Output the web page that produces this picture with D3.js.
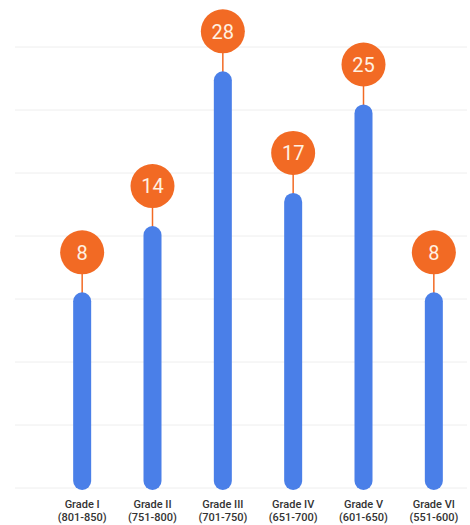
<!DOCTYPE html>
<html>
<head>
<meta charset="utf-8">
<script src="https://cdn.jsdelivr.net/npm/d3@7"></script>
<style>
  html, body { margin: 0; padding: 0; background: #ffffff; }
  svg { display: block; }
</style>
</head>
<body>
<svg id="chart" width="470" height="525"></svg>
<script>
// Grade bands and the count for each
const grades = ["Grade I", "Grade II", "Grade III", "Grade IV", "Grade V", "Grade VI"];
const ranges = ["(801-850)", "(751-800)", "(701-750)", "(651-700)", "(601-650)", "(551-600)"];
const counts = [8, 14, 28, 17, 25, 8];

const W = 470, H = 525;
const plotTop = 47, plotBottom = 488, barBase = 490;
const gridCount = 8;

const svg = d3.select("#chart");

const x = d3.scaleBand()
  .domain(grades)
  .range([47, 469])
  .padding(0);

const y = d3.scaleLinear()
  .domain([-9.7, 30.2])
  .range([plotBottom, plotTop]);

const cx = d => x(d.grade) + x.bandwidth() / 2;

// faint horizontal guide lines
const gridY = d3.scaleLinear().domain([0, gridCount - 1]).range([plotBottom, plotTop]);
svg.append("g")
  .selectAll("line")
  .data(d3.range(gridCount))
  .join("line")
  .attr("x1", 15)
  .attr("x2", 467)
  .attr("y1", d => gridY(d))
  .attr("y2", d => gridY(d))
  .attr("stroke", "#eeeeee")
  .attr("stroke-width", 1);

const data = grades.map((g, i) => ({ grade: g, range: ranges[i], value: counts[i] }));
const barW = 18;
const bubbleR = 22;
const bubbleGap = 40;

const g = svg.append("g");

// stems connecting bubble and bar
g.selectAll("line.stem")
  .data(data)
  .join("line")
  .attr("class", "stem")
  .attr("x1", cx)
  .attr("x2", cx)
  .attr("y1", d => y(d.value) - bubbleGap)
  .attr("y2", d => y(d.value) + 4)
  .attr("stroke", "#f26a24")
  .attr("stroke-width", 1.5);

// rounded bars
g.selectAll("rect.bar")
  .data(data)
  .join("rect")
  .attr("class", "bar")
  .attr("x", d => cx(d) - barW / 2)
  .attr("y", d => y(d.value))
  .attr("width", barW)
  .attr("height", d => barBase - y(d.value))
  .attr("rx", barW / 2)
  .attr("fill", "#4a7fe8");

// value bubbles
g.selectAll("circle.bubble")
  .data(data)
  .join("circle")
  .attr("class", "bubble")
  .attr("cx", cx)
  .attr("cy", d => y(d.value) - bubbleGap)
  .attr("r", bubbleR)
  .attr("fill", "#f26a24");

g.selectAll("text.value")
  .data(data)
  .join("text")
  .attr("class", "value")
  .attr("x", cx)
  .attr("y", d => y(d.value) - bubbleGap)
  .attr("dy", "0.36em")
  .attr("text-anchor", "middle")
  .attr("font-family", "Roboto, sans-serif")
  .attr("font-size", 20)
  .attr("font-weight", 400)
  .attr("fill", "#fff1e2")
  .text(d => d.value);

// category labels: grade name above its score range
const labelStyle = sel => sel
  .attr("x", cx)
  .attr("text-anchor", "middle")
  .attr("font-family", "Roboto, sans-serif")
  .attr("font-size", 11)
  .attr("font-weight", 500)
  .attr("fill", "#333333");

svg.append("g")
  .selectAll("text")
  .data(data)
  .join("text")
  .call(labelStyle)
  .attr("y", 508)
  .text(d => d.grade);

svg.append("g")
  .selectAll("text")
  .data(data)
  .join("text")
  .call(labelStyle)
  .attr("y", 521)
  .text(d => d.range);
</script>
</body>
</html>
